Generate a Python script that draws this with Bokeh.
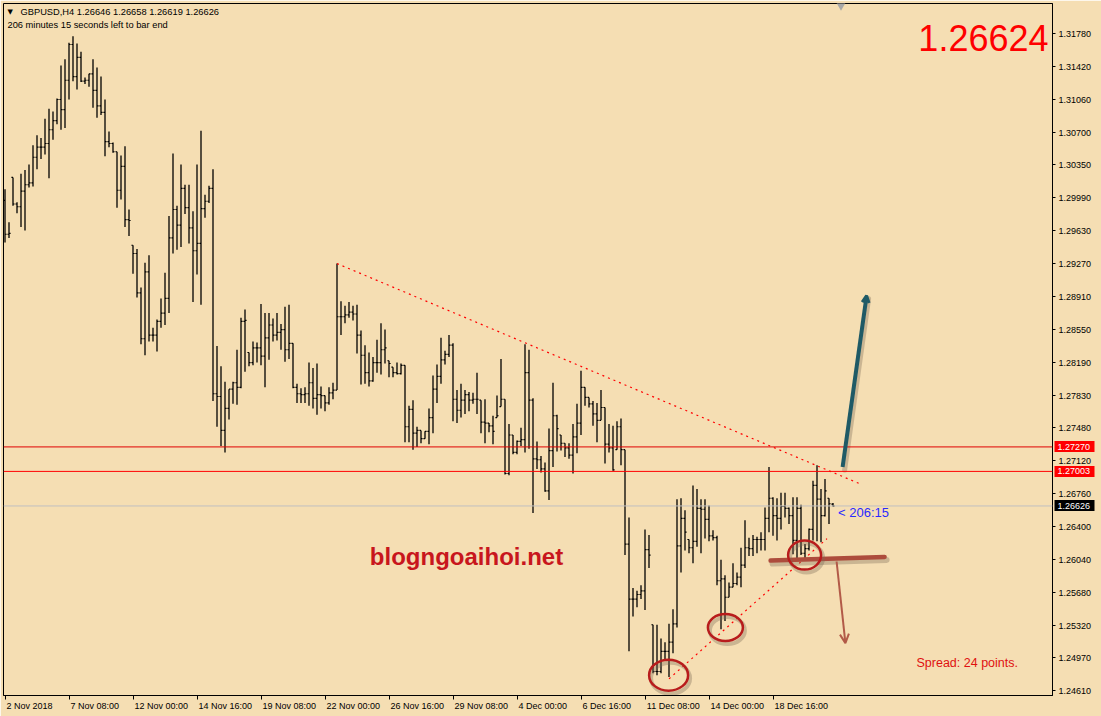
from bokeh.plotting import figure
from bokeh.models import (Range1d, FixedTicker, PrintfTickFormatter, Span, Label, LinearAxis,
                          Arrow, OpenHead, ColumnDataSource)
from bokeh.embed import file_html
from bokeh.resources import INLINE

# ---- market data: GBPUSD, 4-hour bars ---------------------------------------
symbol = "GBPUSD"
timeframe = "H4"

opens = [
    1.2996, 1.2959, 1.3021, 1.2992, 1.2989, 1.3006, 1.3013, 1.3015, 1.3043, 1.3054,
    1.3054, 1.3058, 1.3073, 1.3083, 1.3106, 1.3095, 1.3127, 1.3166, 1.3131, 1.3152,
    1.3126, 1.3127, 1.3134, 1.3116, 1.3099, 1.3092, 1.3060, 1.3058, 1.3049, 1.3007,
    1.3033, 1.2975, 1.2947, 1.2938, 1.2895, 1.2845, 1.2918, 1.2849, 1.2849, 1.2864,
    1.2873, 1.2889, 1.2955, 1.2986, 1.2969, 1.3009, 1.2988, 1.2966, 1.2941, 1.2949,
    1.2987, 1.2995, 1.3009, 1.2785, 1.2782, 1.2745, 1.2769, 1.2790, 1.2797, 1.2792,
    1.2864, 1.2830, 1.2819, 1.2835, 1.2835, 1.2826, 1.2846, 1.2860, 1.2849, 1.2852,
    1.2855, 1.2833, 1.2840, 1.2792, 1.2785, 1.2784, 1.2785, 1.2797, 1.2780, 1.2784,
    1.2783, 1.2775, 1.2786, 1.2789, 1.2869, 1.2869, 1.2871, 1.2874, 1.2872, 1.2849,
    1.2827, 1.2808, 1.2799, 1.2819, 1.2819, 1.2833, 1.2821, 1.2814, 1.2808, 1.2807,
    1.2816, 1.2749, 1.2768, 1.2742, 1.2745, 1.2736, 1.2744, 1.2759, 1.2790, 1.2804,
    1.2822, 1.2828, 1.2838, 1.2779, 1.2767, 1.2778, 1.2784, 1.2778, 1.2779, 1.2778,
    1.2754, 1.2753, 1.2750, 1.2759, 1.2771, 1.2779, 1.2698, 1.2740, 1.2721, 1.2733,
    1.2735, 1.2808, 1.2778, 1.2714, 1.2713, 1.2703, 1.2679, 1.2723, 1.2761, 1.2740,
    1.2731, 1.2726, 1.2718, 1.2738, 1.2753, 1.2792, 1.2781, 1.2774, 1.2763, 1.2756,
    1.2770, 1.2730, 1.2726, 1.2724, 1.2749, 1.2724, 1.2621, 1.2561, 1.2561, 1.2566,
    1.2570, 1.2615, 1.2533, 1.2482, 1.2482, 1.2504, 1.2504, 1.2514, 1.2534, 1.2619,
    1.2649, 1.2626, 1.2617, 1.2624, 1.2660, 1.2659, 1.2648, 1.2630, 1.2628, 1.2581,
    1.2583, 1.2563, 1.2574, 1.2578, 1.2585, 1.2598, 1.2617, 1.2616, 1.2626, 1.2626,
    1.2626, 1.2649, 1.2671, 1.2652, 1.2649, 1.2662, 1.2660, 1.2652, 1.2625, 1.2660,
    1.2611, 1.2616, 1.2637, 1.2685, 1.2670, 1.2652, 1.2671, 1.26646,
]
highs = [
    1.3008, 1.2972, 1.3021, 1.2994, 1.3025, 1.3029, 1.3035, 1.3056, 1.3067, 1.3064,
    1.3085, 1.3096, 1.3093, 1.3107, 1.3143, 1.3150, 1.3168, 1.3175, 1.3167, 1.3158,
    1.3130, 1.3134, 1.3150, 1.3141, 1.3131, 1.3106, 1.3071, 1.3059, 1.3049, 1.3045,
    1.3055, 1.2986, 1.2947, 1.2943, 1.2901, 1.2928, 1.2936, 1.2857, 1.2866, 1.2889,
    1.2917, 1.2979, 1.3047, 1.2990, 1.3035, 1.3013, 1.3013, 1.2984, 1.3035, 1.3072,
    1.3002, 1.3012, 1.3030, 1.2837, 1.2815, 1.2798, 1.2790, 1.2798, 1.2833, 1.2868,
    1.2877, 1.2830, 1.2842, 1.2841, 1.2883, 1.2873, 1.2873, 1.2867, 1.2873, 1.2861,
    1.2880, 1.2882, 1.2840, 1.2796, 1.2791, 1.2792, 1.2819, 1.2813, 1.2818, 1.2793,
    1.2783, 1.2792, 1.2797, 1.2927, 1.2886, 1.2881, 1.2885, 1.2881, 1.2882, 1.2854,
    1.2838, 1.2830, 1.2825, 1.2844, 1.2862, 1.2855, 1.2821, 1.2814, 1.2819, 1.2818,
    1.2816, 1.2772, 1.2778, 1.2749, 1.2745, 1.2744, 1.2769, 1.2805, 1.2817, 1.2846,
    1.2832, 1.2849, 1.2840, 1.2789, 1.2796, 1.2789, 1.2787, 1.2786, 1.2808, 1.2778,
    1.2779, 1.2753, 1.2761, 1.2783, 1.2823, 1.2779, 1.2752, 1.2740, 1.2734, 1.2748,
    1.2839, 1.2833, 1.2780, 1.2733, 1.2717, 1.2710, 1.2747, 1.2797, 1.2762, 1.2740,
    1.2731, 1.2731, 1.2752, 1.2774, 1.2810, 1.2792, 1.2781, 1.2777, 1.2775, 1.2789,
    1.2770, 1.2752, 1.2750, 1.2755, 1.2758, 1.2724, 1.2650, 1.2573, 1.2570, 1.2576,
    1.2637, 1.2631, 1.2533, 1.2533, 1.2518, 1.2514, 1.2534, 1.2550, 1.2670, 1.2671,
    1.2658, 1.2626, 1.2685, 1.2681, 1.2670, 1.2670, 1.2663, 1.2636, 1.2630, 1.2604,
    1.2587, 1.2579, 1.2600, 1.2590, 1.2617, 1.2647, 1.2628, 1.2631, 1.2629, 1.2634,
    1.2661, 1.2705, 1.2672, 1.2671, 1.2677, 1.2677, 1.2661, 1.2672, 1.2672, 1.2664,
    1.2621, 1.2638, 1.2690, 1.2707, 1.2681, 1.2692, 1.2671, 1.26658,
]
lows = [
    1.2950, 1.2955, 1.2990, 1.2982, 1.2967, 1.2963, 1.3010, 1.3011, 1.3030, 1.3041,
    1.3046, 1.3020, 1.3062, 1.3079, 1.3073, 1.3075, 1.3106, 1.3126, 1.3117, 1.3125,
    1.3123, 1.3120, 1.3097, 1.3086, 1.3089, 1.3044, 1.3054, 1.3048, 1.2988, 1.2997,
    1.2967, 1.2957, 1.2916, 1.2890, 1.2839, 1.2827, 1.2842, 1.2842, 1.2831, 1.2857,
    1.2860, 1.2873, 1.2938, 1.2942, 1.2945, 1.2981, 1.2949, 1.2885, 1.2915, 1.2882,
    1.2977, 1.2993, 1.2777, 1.2749, 1.2728, 1.2721, 1.2757, 1.2774, 1.2773, 1.2791,
    1.2809, 1.2815, 1.2816, 1.2819, 1.2816, 1.2792, 1.2822, 1.2842, 1.2843, 1.2833,
    1.2820, 1.2823, 1.2791, 1.2775, 1.2775, 1.2775, 1.2772, 1.2769, 1.2762, 1.2769,
    1.2766, 1.2773, 1.2779, 1.2789, 1.2849, 1.2862, 1.2868, 1.2865, 1.2829, 1.2795,
    1.2796, 1.2793, 1.2798, 1.2808, 1.2806, 1.2818, 1.2803, 1.2803, 1.2806, 1.2806,
    1.2732, 1.2732, 1.2724, 1.2727, 1.2731, 1.2736, 1.2730, 1.2742, 1.2775, 1.2796,
    1.2817, 1.2825, 1.2755, 1.2753, 1.2759, 1.2763, 1.2766, 1.2774, 1.2763, 1.2742,
    1.2731, 1.2743, 1.2730, 1.2759, 1.2771, 1.2697, 1.2696, 1.2719, 1.2719, 1.2728,
    1.2721, 1.2725, 1.2655, 1.2703, 1.2699, 1.2678, 1.2669, 1.2705, 1.2722, 1.2723,
    1.2716, 1.2714, 1.2698, 1.2720, 1.2740, 1.2772, 1.2770, 1.2750, 1.2732, 1.2756,
    1.2709, 1.2721, 1.2701, 1.2724, 1.2707, 1.2609, 1.2504, 1.2542, 1.2552, 1.2561,
    1.2549, 1.2595, 1.2480, 1.2478, 1.2480, 1.2494, 1.2476, 1.2502, 1.2530, 1.2590,
    1.2614, 1.2611, 1.2600, 1.2618, 1.2611, 1.2627, 1.2624, 1.2625, 1.2576, 1.2528,
    1.2537, 1.2563, 1.2574, 1.2576, 1.2574, 1.2595, 1.2608, 1.2608, 1.2611, 1.2614,
    1.2614, 1.2634, 1.2630, 1.2625, 1.2637, 1.2650, 1.2643, 1.2610, 1.2604, 1.2609,
    1.2603, 1.2614, 1.2625, 1.2624, 1.2623, 1.2651, 1.2643, 1.26619,
]
closes = [
    1.2959, 1.2960, 1.2992, 1.2989, 1.3006, 1.3013, 1.3015, 1.3043, 1.3054, 1.3054,
    1.3058, 1.3073, 1.3083, 1.3106, 1.3095, 1.3127, 1.3166, 1.3131, 1.3152, 1.3126,
    1.3127, 1.3134, 1.3116, 1.3099, 1.3092, 1.3060, 1.3058, 1.3049, 1.3007, 1.3033,
    1.2975, 1.2974, 1.2938, 1.2895, 1.2845, 1.2918, 1.2849, 1.2849, 1.2864, 1.2873,
    1.2889, 1.2955, 1.2986, 1.2969, 1.3009, 1.2988, 1.2966, 1.2941, 1.2949, 1.2987,
    1.2995, 1.3009, 1.2785, 1.2782, 1.2745, 1.2769, 1.2790, 1.2797, 1.2792, 1.2864,
    1.2865, 1.2819, 1.2835, 1.2835, 1.2826, 1.2846, 1.2860, 1.2849, 1.2852, 1.2855,
    1.2833, 1.2840, 1.2792, 1.2785, 1.2784, 1.2785, 1.2797, 1.2780, 1.2784, 1.2783,
    1.2775, 1.2786, 1.2789, 1.2869, 1.2869, 1.2871, 1.2874, 1.2872, 1.2849, 1.2827,
    1.2808, 1.2799, 1.2819, 1.2819, 1.2833, 1.2835, 1.2818, 1.2808, 1.2807, 1.2816,
    1.2749, 1.2768, 1.2742, 1.2745, 1.2736, 1.2744, 1.2759, 1.2790, 1.2804, 1.2822,
    1.2828, 1.2838, 1.2779, 1.2767, 1.2778, 1.2784, 1.2778, 1.2779, 1.2779, 1.2754,
    1.2753, 1.2750, 1.2744, 1.2761, 1.2779, 1.2698, 1.2740, 1.2721, 1.2733, 1.2735,
    1.2808, 1.2778, 1.2714, 1.2713, 1.2703, 1.2679, 1.2723, 1.2761, 1.2747, 1.2731,
    1.2726, 1.2718, 1.2738, 1.2753, 1.2792, 1.2781, 1.2774, 1.2763, 1.2756, 1.2770,
    1.2730, 1.2726, 1.2702, 1.2749, 1.2724, 1.2621, 1.2561, 1.2561, 1.2566, 1.2570,
    1.2615, 1.2609, 1.2482, 1.2482, 1.2504, 1.2504, 1.2514, 1.2534, 1.2619, 1.2649,
    1.2634, 1.2617, 1.2624, 1.2660, 1.2659, 1.2648, 1.2630, 1.2628, 1.2581, 1.2583,
    1.2563, 1.2574, 1.2578, 1.2585, 1.2598, 1.2617, 1.2616, 1.2626, 1.2626, 1.2626,
    1.2649, 1.2671, 1.2652, 1.2649, 1.2662, 1.2660, 1.2652, 1.2625, 1.2660, 1.2611,
    1.2616, 1.2637, 1.2685, 1.2670, 1.2652, 1.2679, 1.2665, 1.26626,
]

# time axis: bar number -> label
date_tick_bars = [0, 16, 32, 48, 64, 80, 96, 112, 128, 144, 160, 176, 192]
date_tick_labels = ["2 Nov 2018", "7 Nov 08:00", "12 Nov 00:00", "14 Nov 16:00",
                    "19 Nov 08:00", "22 Nov 00:00", "26 Nov 16:00", "29 Nov 08:00",
                    "4 Dec 00:00", "6 Dec 16:00", "11 Dec 08:00", "14 Dec 00:00",
                    "18 Dec 16:00"]
price_ticks = [1.24610, 1.24970, 1.25320, 1.25680, 1.26040, 1.26400, 1.26760,
               1.27120, 1.27480, 1.27830, 1.28190, 1.28550, 1.28910, 1.29270,
               1.29630, 1.29990, 1.30350, 1.30700, 1.31060, 1.31420, 1.31780]

# horizontal levels and live quote
level_upper = 1.27270
level_lower = 1.27003
bid = 1.26624
spread_points = 24
minutes_left, seconds_left = 206, 15
shift_bar = 209

# drawn analysis objects (anchors as bar number / price)
resistance_bars = [83, 213.6]
resistance_prices = [1.2927, 1.2687]
support_bars = [166, 205.5]
support_prices = [1.2474, 1.2627]
touch_bars = [165.9, 180.1, 199.9]
touch_prices = [1.2478, 1.2530, 1.2609]
neck_bars = [191.4, 219.9]
neck_prices = [1.2603, 1.2607]
up_bars = [209.4, 215.4]
up_prices = [1.2705, 1.2892]
down_bars = [207.9, 210.1]
down_prices = [1.2602, 1.2513]

# ---- figure ------------------------------------------------------------------
BG = "#F5DEB3"
FONT = "Liberation Sans"
FRAME_W, FRAME_H = 1049, 692
BAR_PX = 4.0

p = figure(width=1101, height=716, output_backend="svg", toolbar_location=None,
           x_range=Range1d(-0.375, 261.875), y_range=Range1d(1.245582, 1.321073),
           y_axis_location=None,
           min_border_left=3, min_border_right=49, min_border_top=3, min_border_bottom=21,
           background_fill_color=BG, border_fill_color=BG,
           outline_line_color="black", outline_line_width=1)
p.grid.visible = False

px_x = (p.x_range.end - p.x_range.start) / FRAME_W   # bar units per pixel
px_y = (p.y_range.end - p.y_range.start) / FRAME_H   # price units per pixel

# price scale
ya = LinearAxis(ticker=FixedTicker(ticks=price_ticks),
                formatter=PrintfTickFormatter(format="%.5f"),
                major_tick_out=3, major_tick_in=0, minor_tick_out=0, minor_tick_in=0,
                major_label_standoff=3, major_label_text_font=FONT,
                major_label_text_font_size="9px", major_label_text_color="black",
                axis_line_color="black")
p.add_layout(ya, "right")

# price tags: an outer scale whose wide inward ticks form the tag boxes,
# with its captions pulled back over them
TAG_IN = 40


def tag_axis(levels, fill):
    return LinearAxis(ticker=FixedTicker(ticks=levels),
                      formatter=PrintfTickFormatter(format="%.5f"),
                      axis_line_color=None,
                      major_tick_in=TAG_IN, major_tick_out=0,
                      major_tick_line_color=fill, major_tick_line_width=11,
                      major_tick_line_cap="butt",
                      minor_tick_in=0, minor_tick_out=0,
                      major_label_standoff=-(TAG_IN - 3),
                      major_label_text_font=FONT, major_label_text_font_size="9px",
                      major_label_text_color="white")


p.add_layout(tag_axis([level_upper, level_lower], "#ff0000"), "right")
p.add_layout(tag_axis([closes[-1]], "black"), "right")

# time scale: tick marks on one axis, left-aligned captions on a second one
xa = p.xaxis[0]
xa.ticker = FixedTicker(ticks=date_tick_bars)
xa.major_label_overrides = {b: "" for b in date_tick_bars}
xa.major_label_text_font_size = "0px"
xa.major_label_standoff = 0
xa.major_tick_out = 4
xa.major_tick_in = 0
xa.minor_tick_out = 0
xa.minor_tick_in = 0
xa.axis_line_color = "black"
xa.major_tick_line_color = "black"

# approximate Arial advance widths (per 1000 em) to start each caption at its tick
ADV = {" ": 278, ":": 278, "N": 722, "D": 722, "o": 556, "v": 500, "e": 556, "c": 500}
DATE_FONT_PX = 9.0


def caption_width(s):
    return sum(ADV.get(ch, 556) for ch in s) * DATE_FONT_PX / 1000.0


caption_pos = [round(b + (1.5 + caption_width(s) / 2.0) / BAR_PX, 4)
               for b, s in zip(date_tick_bars, date_tick_labels)]
xcap = LinearAxis(ticker=FixedTicker(ticks=caption_pos),
                  major_label_overrides={c: s for c, s in zip(caption_pos, date_tick_labels)},
                  axis_line_color=None, major_tick_line_color=None,
                  major_tick_out=0, major_tick_in=0, minor_tick_out=0, minor_tick_in=0,
                  major_label_standoff=1, major_label_text_font=FONT,
                  major_label_text_font_size=f"{DATE_FONT_PX}px", major_label_text_color="black")
p.add_layout(xcap, "below")

# ---- horizontal levels ---------------------------------------------------------
p.add_layout(Span(location=closes[-1], dimension="width", line_color="#c0c0c0", line_width=1))
p.add_layout(Span(location=level_upper, dimension="width", line_color="#e00000", line_width=1))
p.add_layout(Span(location=level_lower, dimension="width", line_color="#ff0000", line_width=1))

# ---- OHLC bars -----------------------------------------------------------------
idx = list(range(len(closes)))
src = ColumnDataSource(dict(
    x=idx, o=opens, h=highs, l=lows, c=closes,
    xl=[i - 0.4 for i in idx], xr=[i + 0.4 for i in idx],
))
p.segment(x0="x", y0="l", x1="x", y1="h", source=src, line_color="black", line_width=1.3)
p.segment(x0="xl", y0="o", x1="x", y1="o", source=src, line_color="black", line_width=1.1)
p.segment(x0="x", y0="c", x1="xr", y1="c", source=src, line_color="black", line_width=1.1)

# ---- trend lines -------------------------------------------------------------
p.line(resistance_bars, resistance_prices, line_color="#ff0000", line_width=1.2, line_dash="2 4")
p.line(support_bars, support_prices, line_color="#ff0000", line_width=1.2, line_dash="2 4")

# neckline with soft shadow
p.line([b + 2 * px_x for b in neck_bars], [v - 3 * px_y for v in neck_prices],
       line_color="#7a6a55", line_alpha=0.35, line_width=6, line_cap="round")
p.line(neck_bars, neck_prices, line_color="#ad4c3c", line_width=4.5, line_cap="round")

# touch rings with soft shadow
ring_w, ring_h = [39, 35, 33], [31, 27, 29]
p.ellipse(x=[b + 2 * px_x for b in touch_bars], y=[v - 3 * px_y for v in touch_prices],
          width=ring_w, height=ring_h, width_units="screen", height_units="screen",
          fill_color=None, line_color="#7a6a55", line_alpha=0.35, line_width=4)
p.ellipse(x=touch_bars, y=touch_prices, width=ring_w, height=ring_h,
          width_units="screen", height_units="screen",
          fill_color=None, line_color="#b81c1c", line_width=2.5)

# breakout arrows
p.line([b + 2 * px_x for b in up_bars], [v - 3 * px_y for v in up_prices],
       line_color="#7a6a55", line_alpha=0.35, line_width=5, line_cap="round")
p.add_layout(Arrow(end=OpenHead(size=7, line_color="#1f5a66", line_width=3),
                   x_start=up_bars[0], y_start=up_prices[0], x_end=up_bars[1], y_end=up_prices[1],
                   line_color="#1f5a66", line_width=4))
p.add_layout(Arrow(end=OpenHead(size=9, line_color="#b25a48", line_width=2),
                   x_start=down_bars[0], y_start=down_prices[0], x_end=down_bars[1], y_end=down_prices[1],
                   line_color="#b25a48", line_width=2))

# chart shift marker at the top edge
p.scatter(x=[shift_bar], y=[p.y_range.end - 2 * px_y], marker="inverted_triangle",
          size=9, fill_color="#a8a8a8", line_color=None)

# ---- texts ---------------------------------------------------------------------
header = f"{symbol},{timeframe}  {opens[-1]:.5f} {highs[-1]:.5f} {lows[-1]:.5f} {closes[-1]:.5f}"
p.add_layout(Label(x=4, y=684, x_units="screen", y_units="screen", text="\u25bc",
                   text_font="DejaVu Sans", text_font_size="7px", text_color="black",
                   text_baseline="middle"))
p.add_layout(Label(x=17, y=684, x_units="screen", y_units="screen", text=header,
                   text_font=FONT, text_font_size="9.3px", text_color="black",
                   text_baseline="middle"))
p.add_layout(Label(x=4, y=671, x_units="screen", y_units="screen",
                   text=f"{minutes_left} minutes {seconds_left} seconds left to bar end",
                   text_font=FONT, text_font_size="9.3px", text_color="black",
                   text_baseline="middle"))

p.add_layout(Label(x=1045, y=658, x_units="screen", y_units="screen", text=f"{bid:.5f}",
                   text_font=FONT, text_font_size="36px", text_color="#ff0000",
                   text_align="right", text_baseline="alphabetic"))
p.add_layout(Label(x=913, y=33, x_units="screen", y_units="screen",
                   text=f"Spread: {spread_points} points.",
                   text_font=FONT, text_font_size="12.5px", text_color="#e01010",
                   text_baseline="alphabetic"))
p.add_layout(Label(x=idx[-1], y=closes[-1], x_offset=5, y_offset=-7,
                   text=f"< {minutes_left}:{seconds_left}",
                   text_font=FONT, text_font_size="13px", text_color="#2a2aff",
                   text_baseline="middle"))
p.add_layout(Label(x=463, y=139, x_units="screen", y_units="screen", text="blogngoaihoi.net",
                   text_font=FONT, text_font_style="bold", text_font_size="24px",
                   text_color="#c8161d", text_align="center", text_baseline="middle"))

open("out.html", "w").write(file_html(p, INLINE))
